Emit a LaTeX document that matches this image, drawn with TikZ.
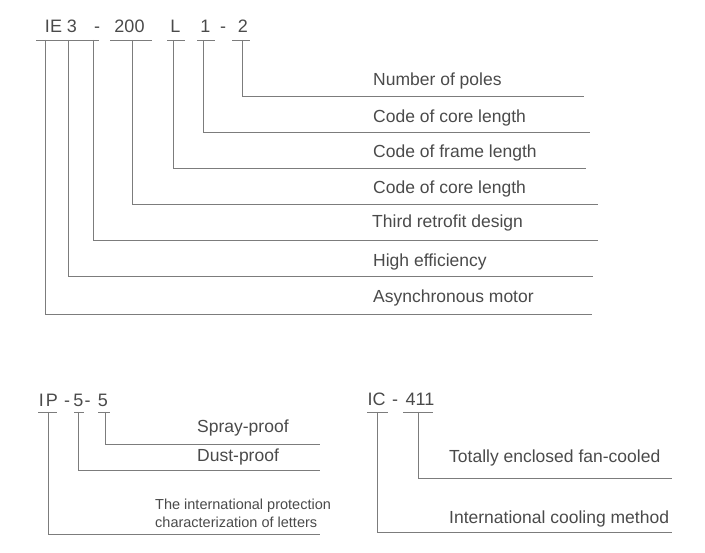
\documentclass[tikz,border=0pt]{standalone}
\usepackage{fontspec}
\setmainfont{Liberation Sans}
\definecolor{txt}{HTML}{4A4A4A}
\definecolor{ln}{HTML}{7C7C7C}
\begin{document}
\begin{tikzpicture}[x=1pt,y=-1pt,
  code/.style={inner sep=0pt,anchor=base,text=txt,font=\fontsize{18}{20}\selectfont},
  lab/.style={inner sep=0pt,anchor=base west,text=txt,font=\fontsize{17.5}{20}\selectfont},
  small/.style={inner sep=0pt,anchor=base west,text=txt,font=\fontsize{14.5}{17}\selectfont},
  conn/.style={draw=ln,line width=0.9pt},
  uline/.style={draw=ln,line width=0.9pt}]
\useasboundingbox (0,0) rectangle (705,553);

% ---------- IE3-200L1-2 ----------
\node[code] (tIE) at (53.5,33) {IE};
\node[code] (t3) at (72,33) {3};
\node[code] (td1) at (97,33) {-};
\node[code] (t200) at (129.5,33) {200};
\node[code] (tL) at (175.5,33) {L};
\node[code] (t1) at (205.5,33) {1};
\node[code] (td2) at (223,33) {-};
\node[code] (t2) at (243,33) {2};

\path[uline] (36,40) -- (99,40) (110,40) -- (152,40) (167,40) -- (185,40)
  (197,40) -- (215,40) (232,40) -- (250,40);

\coordinate (uA) at (45,40);
\coordinate (uH) at (68,40);
\coordinate (uT) at (93,40);
\coordinate (uC2) at (132,40);
\coordinate (uF) at (173,40);
\coordinate (uC1) at (203,40);
\coordinate (uP) at (242,40);

\coordinate (eP) at (584,96);
\coordinate (eC1) at (590,132);
\coordinate (eF) at (586,168);
\coordinate (eC2) at (598,204);
\coordinate (eT) at (598,240);
\coordinate (eH) at (593,276);
\coordinate (eA) at (592,314);

\path[conn] (uP) |- (eP);
\path[conn] (uC1) |- (eC1);
\path[conn] (uF) |- (eF);
\path[conn] (uC2) |- (eC2);
\path[conn] (uT) |- (eT);
\path[conn] (uH) |- (eH);
\path[conn] (uA) |- (eA);

\node[lab] (lP) at (373,86) {Number of poles};
\node[lab] (lC1) at (373,122.5) {Code of core length};
\node[lab] (lF) at (373,158) {Code of frame length};
\node[lab] (lC2) at (373,193.5) {Code of core length};
\node[lab] (lT) at (372,227.5) {Third retrofit design};
\node[lab] (lH) at (373,267) {High efficiency};
\node[lab] (lA) at (373,303) {Asynchronous motor};

% ---------- IP-5-5 ----------
\node[code] (pI) at (41.5,407) {I};
\node[code] (pP) at (52,407) {P};
\node[code] (pd1) at (67,407) {-};
\node[code] (p5a) at (78.5,407) {5};
\node[code] (pd2) at (87.5,407) {-};
\node[code] (p5b) at (103,407) {5};

\path[uline] (38,412) -- (57,412) (74,412) -- (84,412) (98,412) -- (110,412);

\coordinate (uIP) at (48,412);
\coordinate (uDu) at (78,412);
\coordinate (uSp) at (105,412);
\coordinate (eIP) at (320,534);
\coordinate (eDu) at (320,470);
\coordinate (eSp) at (320,444);

\path[conn] (uSp) |- (eSp);
\path[conn] (uDu) |- (eDu);
\path[conn] (uIP) |- (eIP);

\node[lab] (lSp) at (197,433) {Spray-proof};
\node[lab] (lDu) at (197,462) {Dust-proof};
\node[small] (lIP1) at (155,510) {The international protection};
\node[small] (lIP2) at (155,528) {characterization of letters};

% ---------- IC-411 ----------
\node[code] (cIC) at (376.5,406) {IC};
\node[code] (cd) at (395,406) {-};
\node[code] (c411) at (420,406) {411};

\path[uline] (367,412) -- (388,412) (403,412) -- (433,412);

\coordinate (uIC) at (377,412);
\coordinate (uTe) at (418,412);
\coordinate (eIC) at (672,532);
\coordinate (eTe) at (672,478);

\path[conn] (uTe) |- (eTe);
\path[conn] (uIC) |- (eIC);

\node[lab] (lTe) at (449,463) {Totally enclosed fan-cooled};
\node[lab] (lIC) at (449,523) {International cooling method};
\end{tikzpicture}
\end{document}
